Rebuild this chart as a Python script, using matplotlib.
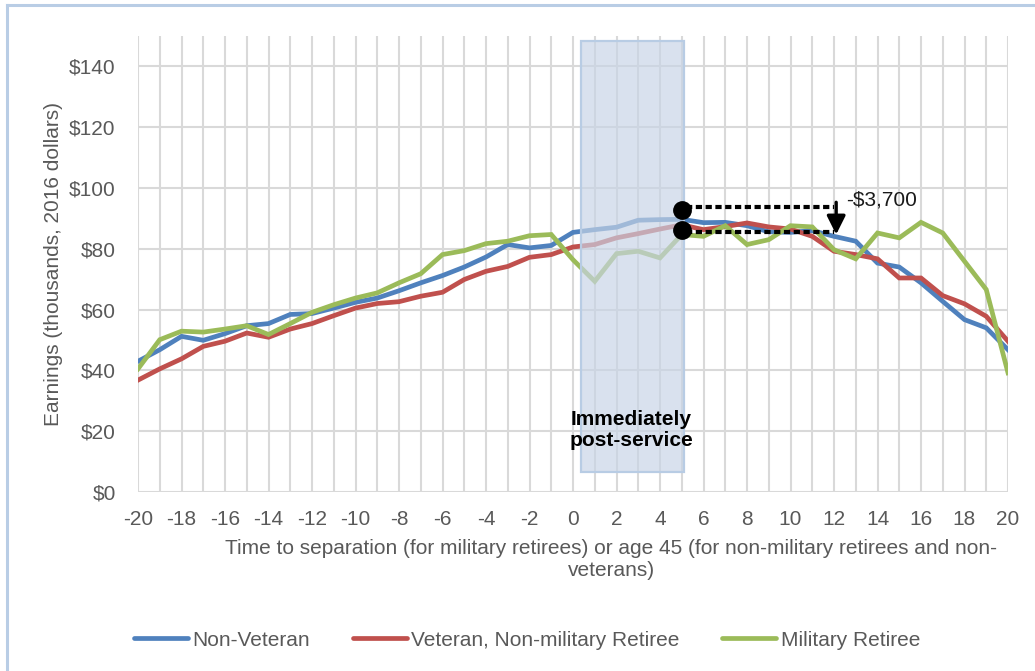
import numpy as np
import matplotlib
matplotlib.use('Agg')
import matplotlib.pyplot as plt
from matplotlib.lines import Line2D
from matplotlib.patches import Rectangle

plt.rcParams['font.family'] = ['Liberation Sans', 'DejaVu Sans']
plt.rcParams['axes.unicode_minus'] = False

# data (thousands, 2016 dollars)
years = list(range(-20, 21))
non_veteran = [43.0, 46.8, 51.2, 49.9, 52.1, 54.7, 55.4, 58.4, 58.7, 60.5, 62.4,
               63.8, 66.2, 68.8, 71.2, 74.0, 77.3, 81.4, 80.3, 81.1, 85.4,
               86.3, 87.1, 89.4, 89.6, 89.7, 88.6, 88.7, 87.6, 85.6, 85.4,
               86.0, 84.1, 82.5, 75.3, 74.0, 68.8, 62.7, 56.7, 54.0, 46.8]
veteran = [36.8, 40.5, 43.8, 47.9, 49.6, 52.3, 50.9, 53.6, 55.4, 58.0, 60.5,
           62.0, 62.6, 64.4, 65.7, 69.9, 72.6, 74.2, 77.2, 78.1, 80.6,
           81.4, 83.6, 85.0, 86.5, 87.9, 86.3, 87.3, 88.5, 87.2, 86.5,
           84.1, 79.2, 78.1, 76.7, 70.4, 70.4, 64.6, 61.9, 57.8, 49.6]
military = [40.5, 50.1, 52.9, 52.6, 53.6, 54.7, 51.8, 55.4, 59.1, 61.6, 63.8,
            65.5, 68.8, 71.8, 78.1, 79.4, 81.7, 82.5, 84.3, 84.7, 76.4,
            69.3, 78.4, 79.2, 77.0, 84.7, 84.1, 87.6, 81.4, 83.0, 87.6,
            87.2, 79.7, 76.7, 85.2, 83.6, 88.7, 85.2, 75.9, 66.6, 39.2]
names = ['Non-Veteran', 'Veteran, Non-military Retiree', 'Military Retiree']
colors = ['#4f81bd', '#c0504d', '#9bbb59']

# post-service window and the gap markers
window = (0.37, 5.1)
gap_x = 5
gap_dots = [92.7, 86.1]
gap_lines = [93.7, 85.4]
gap_end = 12.0
gap_label = '-$3,700'

fig = plt.figure(figsize=(10.35, 6.71), dpi=100)
ax = fig.add_axes([138 / 1035, 1 - 492 / 671, 870 / 1035, 456 / 671])

grid_c = '#d9d9d9'
for i, s in enumerate([non_veteran, veteran, military]):
    ax.plot(years, s, color=colors[i], lw=3.4, solid_joinstyle='miter', zorder=3, label=names[i])

# shaded box sits on top of the lines
ax.add_patch(Rectangle((window[0], 6.7), window[1] - window[0], 148.3 - 6.7,
                       facecolor='#c8d4e6', alpha=0.68, edgecolor='none', zorder=4))
ax.add_patch(Rectangle((window[0], 6.7), window[1] - window[0], 148.3 - 6.7,
                       facecolor='none', edgecolor='#b8cce4', lw=1.6, zorder=4))
ax.text(2.67, 20.4, 'Immediately\npost-service', ha='center', va='center',
        fontsize=15, fontweight='bold', color='black', zorder=6, linespacing=1.15)

# dotted gap lines and arrow
for yv in gap_lines:
    ax.plot([gap_x + 0.2, gap_end], [yv, yv], color='black', lw=3.0,
            dashes=(1.5, 0.85), dash_capstyle='butt', zorder=6)
ax.plot([gap_x, gap_x], gap_dots, 'o', color='black', ms=12.5, zorder=7)
ax.annotate('', xy=(12.1, 84.7), xytext=(12.1, 95.3),
            arrowprops=dict(arrowstyle='-|>', color='black', lw=2.4,
                            mutation_scale=28, shrinkA=0, shrinkB=0), zorder=7)
ax.text(12.55, 96.2, gap_label, fontsize=15, color='#1a1a1a', va='center', ha='left', zorder=7)

ax.set_xlim(-20, 20)
ax.set_ylim(0, 150)
ax.set_xticks(range(-20, 21, 2))
ax.set_xticks(range(-20, 21), minor=True)
ax.set_yticks(range(0, 141, 20))
ax.set_yticklabels(['$%d' % v for v in range(0, 141, 20)])
ax.tick_params(axis='both', which='both', length=0, labelsize=15, labelcolor='#595959')
ax.tick_params(axis='x', pad=13)
ax.tick_params(axis='y', pad=16)
for sp in ax.spines.values():
    sp.set_visible(False)
for xv in range(-20, 21):
    ax.axvline(xv, color=grid_c, lw=1.5, zorder=1)
for yv in range(0, 141, 20):
    ax.axhline(yv, color=grid_c, lw=1.5, zorder=1)

fig.text(54 / 1035, 1 - 264 / 671, 'Earnings (thousands, 2016 dollars)', rotation=90,
         ha='center', va='center', fontsize=15, color='#595959')
fig.text(611 / 1035, 1 - 560 / 671,
         'Time to separation (for military retirees) or age 45 (for non-military retirees and non-\nveterans)',
         ha='center', va='center', fontsize=15, color='#595959', linespacing=1.2)

handles = [Line2D([], [], color=c, lw=3.4, solid_capstyle='round') for c in colors]
fig.legend(handles, names, loc='center', bbox_to_anchor=(527 / 1035, 31 / 671), ncol=3,
           frameon=False, fontsize=15, handlelength=2.6, handletextpad=0.2,
           columnspacing=2.05, labelcolor='#595959')

# light blue frame around the chart (cut off at right and bottom)
fig.add_artist(Line2D([7 / 1035, 7 / 1035], [0, 1 - 5 / 671], color='#b9cde5', lw=2.2))
fig.add_artist(Line2D([7 / 1035, 1], [1 - 5 / 671, 1 - 5 / 671], color='#b9cde5', lw=2.2))

plt.savefig('out.png', dpi=100)
